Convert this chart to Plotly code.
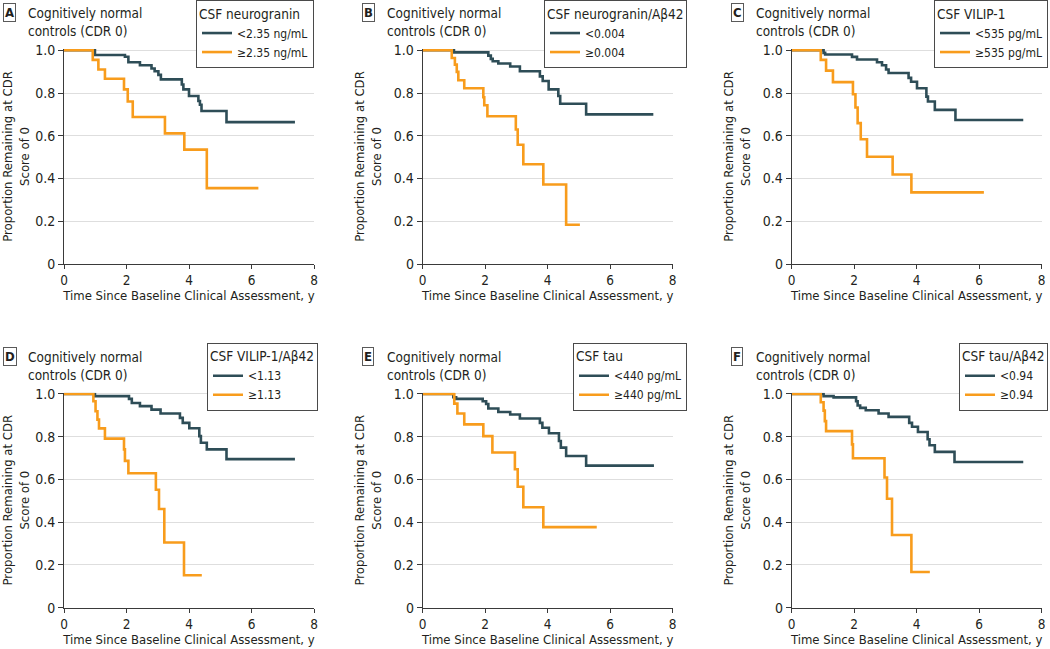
import plotly.graph_objects as go

W, H = 1050, 649
FONT = "Liberation Sans Narrow, Arial Narrow, DejaVu Sans Condensed, sans-serif"
DARK = "#2E4D57"
ORANGE = "#F89C1C"
TEXT = "#231F20"

panel_letters = ["A", "B", "C", "D", "E", "F"]
legend_titles = ["CSF neurogranin", "CSF neurogranin/Aβ42", "CSF VILIP-1",
                 "CSF VILIP-1/Aβ42", "CSF tau", "CSF tau/Aβ42"]
low_labels = ["<2.35 ng/mL", "<0.004", "<535 pg/mL", "<1.13", "<440 pg/mL", "<0.94"]
high_labels = ["≥2.35 ng/mL", "≥0.004", "≥535 pg/mL", "≥1.13", "≥440 pg/mL", "≥0.94"]

# Kaplan-Meier steps: event times, survival after each event, last follow-up time
a_low_t = [0.99, 1.95, 2.06, 2.43, 2.80, 2.90, 3.02, 3.10, 3.77, 3.82, 4.00, 4.30, 4.35, 4.40, 5.20]
a_low_s = [0.978, 0.97, 0.944, 0.93, 0.915, 0.902, 0.885, 0.864, 0.84, 0.817, 0.786, 0.763, 0.745, 0.716, 0.664]
a_low_end = 7.39
a_high_t = [0.92, 1.10, 1.31, 1.92, 2.04, 2.20, 3.23, 3.85, 4.57]
a_high_s = [0.955, 0.91, 0.867, 0.817, 0.76, 0.688, 0.611, 0.535, 0.355]
a_high_end = 6.22

b_low_t = [1.00, 2.10, 2.18, 2.24, 2.42, 2.80, 3.11, 3.75, 3.84, 4.03, 4.34, 4.40, 5.23]
b_low_s = [0.99, 0.975, 0.96, 0.949, 0.938, 0.924, 0.902, 0.878, 0.856, 0.817, 0.786, 0.75, 0.70]
b_low_end = 7.38
b_high_t = [0.93, 1.03, 1.09, 1.14, 1.33, 1.94, 1.97, 2.07, 2.98, 3.04, 3.22, 3.86, 4.59]
b_high_s = [0.964, 0.933, 0.899, 0.86, 0.822, 0.78, 0.743, 0.691, 0.629, 0.558, 0.467, 0.372, 0.184]
b_high_end = 5.03

c_low_t = [1.02, 1.07, 1.93, 2.09, 2.73, 2.89, 3.02, 3.10, 3.74, 3.82, 4.01, 4.31, 4.36, 4.58, 5.24]
c_low_s = [0.988, 0.98, 0.969, 0.957, 0.944, 0.93, 0.91, 0.894, 0.871, 0.853, 0.822, 0.783, 0.76, 0.721, 0.674]
c_low_end = 7.41
c_high_t = [0.93, 1.10, 1.32, 1.96, 2.04, 2.11, 2.21, 2.41, 3.23, 3.83]
c_high_s = [0.955, 0.905, 0.851, 0.794, 0.732, 0.659, 0.584, 0.502, 0.419, 0.335]
c_high_end = 6.15

d_low_t = [0.99, 2.08, 2.17, 2.43, 2.80, 3.09, 3.71, 3.80, 4.01, 4.33, 4.38, 4.57, 5.20]
d_low_s = [0.99, 0.977, 0.958, 0.943, 0.927, 0.909, 0.888, 0.865, 0.84, 0.803, 0.772, 0.741, 0.695]
d_low_end = 7.39
d_high_t = [0.94, 1.01, 1.07, 1.12, 1.31, 1.92, 1.95, 2.06, 2.94, 3.04, 3.21, 3.84]
d_high_s = [0.966, 0.919, 0.88, 0.839, 0.791, 0.741, 0.687, 0.629, 0.552, 0.462, 0.305, 0.152]
d_high_end = 4.41

e_low_t = [0.98, 1.07, 1.92, 2.03, 2.10, 2.42, 2.80, 3.11, 3.75, 3.83, 4.04, 4.36, 4.42, 4.59, 5.23]
e_low_s = [0.985, 0.977, 0.966, 0.953, 0.932, 0.916, 0.904, 0.885, 0.865, 0.842, 0.816, 0.78, 0.749, 0.71, 0.665]
e_low_end = 7.40
e_high_t = [1.01, 1.11, 1.33, 1.94, 2.23, 2.95, 3.04, 3.22, 3.86]
e_high_s = [0.955, 0.909, 0.858, 0.803, 0.726, 0.648, 0.566, 0.47, 0.377]
e_high_end = 5.57

f_low_t = [1.02, 1.34, 2.06, 2.11, 2.19, 2.37, 2.78, 3.10, 3.76, 3.85, 4.04, 4.35, 4.41, 4.58, 5.21]
f_low_s = [0.99, 0.984, 0.966, 0.946, 0.935, 0.924, 0.909, 0.893, 0.865, 0.847, 0.822, 0.788, 0.76, 0.729, 0.682]
f_low_end = 7.41
f_high_t = [0.93, 1.02, 1.06, 1.10, 1.93, 1.96, 2.97, 3.05, 3.21, 3.83]
f_high_s = [0.961, 0.922, 0.873, 0.826, 0.764, 0.699, 0.609, 0.51, 0.34, 0.167]
f_high_end = 4.42

low_series = [(a_low_t, a_low_s, a_low_end), (b_low_t, b_low_s, b_low_end),
              (c_low_t, c_low_s, c_low_end), (d_low_t, d_low_s, d_low_end),
              (e_low_t, e_low_s, e_low_end), (f_low_t, f_low_s, f_low_end)]
high_series = [(a_high_t, a_high_s, a_high_end), (b_high_t, b_high_s, b_high_end),
               (c_high_t, c_high_s, c_high_end), (d_high_t, d_high_s, d_high_end),
               (e_high_t, e_high_s, e_high_end), (f_high_t, f_high_s, f_high_end)]

x_ticks = [0, 2, 4, 6, 8]
y_ticks = [0, 0.2, 0.4, 0.6, 0.8, 1.0]
y_ticktext = ["0", "0.2", "0.4", "0.6", "0.8", "1.0"]

# plot area positions in pixels
col_x0 = [64, 422.7, 791.7]
row_y0 = [49, 392.7]
PW, PH = 250, 215
legend_right = [314, 687, 1048, 318, 687, 1048]


def km_xy(times, surv, end):
    return [0] + list(times) + [end], [1.0] + list(surv) + [surv[-1]]


fig = go.Figure()
layout = {}
annotations = []

for i in range(6):
    r, c = divmod(i, 3)
    x0, y0 = col_x0[c], row_y0[r]
    n = "" if i == 0 else str(i + 1)
    leg = "legend" + n

    for (t, s, end), color, name in [(low_series[i], DARK, low_labels[i]),
                                     (high_series[i], ORANGE, high_labels[i])]:
        xs, ys = km_xy(t, s, end)
        fig.add_trace(go.Scatter(
            x=xs, y=ys, mode="lines", line=dict(color=color, width=2.6, shape="hv"),
            name=name, xaxis="x" + n, yaxis="y" + n, legend=leg, hoverinfo="skip",
        ))

    layout["xaxis" + n] = dict(
        domain=[x0 / W, (x0 + PW) / W], range=[0, 8], tickvals=x_ticks,
        showline=True, linecolor="#3a3a3a", linewidth=1, ticks="outside", ticklen=4,
        tickcolor="#3a3a3a", showgrid=False, zeroline=False, anchor="y" + n,
        automargin=False, tickfont=dict(size=13.5, color=TEXT, family=FONT),
        title=dict(text="Time Since Baseline Clinical Assessment, y",
                   font=dict(size=13, color=TEXT, family=FONT), standoff=3),
    )
    layout["yaxis" + n] = dict(
        domain=[1 - (y0 + PH) / H, 1 - y0 / H], range=[0, 1.006], tickvals=y_ticks,
        ticktext=y_ticktext, showline=True, linecolor="#3a3a3a", linewidth=1,
        ticks="outside", ticklen=5, tickcolor="#3a3a3a", showgrid=True,
        gridcolor="#dedede", gridwidth=1, zeroline=False, anchor="x" + n,
        automargin=False, tickfont=dict(size=14, color=TEXT, family=FONT),
        title=dict(text="Proportion Remaining at CDR<br>Score of 0",
                   font=dict(size=13, color=TEXT, family=FONT), standoff=9),
    )
    layout[leg] = dict(
        x=legend_right[i] / W, xanchor="right", y=min(1.0, 1 - (y0 - 50) / H),
        yanchor="top", bordercolor="#4a4a4a", borderwidth=1, bgcolor="white",
        font=dict(size=12, color=TEXT, family=FONT), tracegroupgap=0,
        title=dict(text=legend_titles[i], font=dict(size=13.5, color=TEXT, family=FONT)),
    )

    annotations.append(dict(
        text="<b>%s</b>" % panel_letters[i], xref="paper", yref="paper",
        x=(x0 - 61) / W, y=1 - (y0 - 46) / H, xanchor="left", yanchor="top",
        showarrow=False, bordercolor="#5a5a5a", borderwidth=1, borderpad=1,
        font=dict(size=13, color=TEXT, family=FONT),
    ))
    annotations.append(dict(
        text="Cognitively normal<br>controls (CDR 0)", xref="paper", yref="paper",
        x=(x0 - 38) / W, y=1 - (y0 - 46) / H, xanchor="left", yanchor="top",
        align="left", showarrow=False, font=dict(size=13.5, color=TEXT, family=FONT),
    ))

fig.update_layout(
    width=W, height=H, margin=dict(l=0, r=0, t=0, b=0, autoexpand=False),
    plot_bgcolor="white", paper_bgcolor="white",
    annotations=annotations, **layout,
)

fig.write_html("out.html", config={"displayModeBar": False},
               post_script="document.body.style.margin = '0';")
